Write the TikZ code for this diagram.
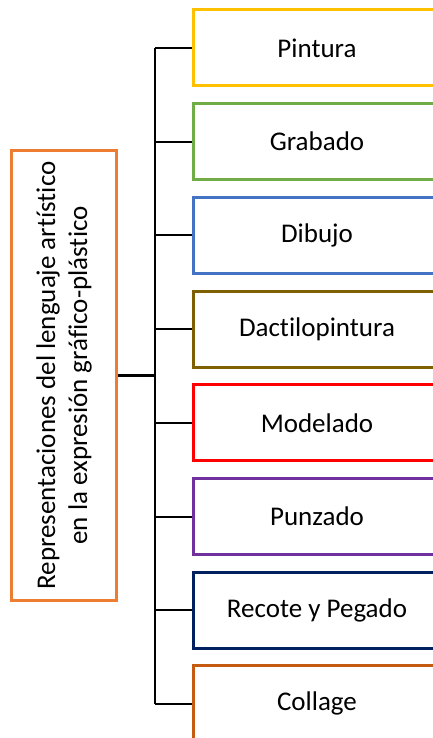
\documentclass[tikz,border=0pt]{standalone}
\usepackage{fontspec}
\setmainfont{Carlito}[Ligatures=NoCommon]
\usepackage{tikz}
\usetikzlibrary{positioning}
\definecolor{repC}{HTML}{ED7D31}
\definecolor{pinC}{HTML}{FFC000}
\definecolor{graC}{HTML}{70AD47}
\definecolor{dibC}{HTML}{4472C4}
\definecolor{dacC}{HTML}{7F6000}
\definecolor{modC}{HTML}{FF0000}
\definecolor{punC}{HTML}{7030A0}
\definecolor{recC}{HTML}{002060}
\definecolor{colC}{HTML}{C55A11}

\begin{document}
\begin{tikzpicture}[x=1pt, y=1pt, node distance=7.35pt,
box/.style={draw, line width=1.5pt, minimum width=124pt, minimum height=38pt, font=\fontsize{13.5}{16}\selectfont},
link/.style={line width=1pt}
]

\clip (0,0) rectangle (216.5,-369);

\node (rep) [box, draw=repC, rotate=90, minimum width=225pt, minimum height=52.5pt, align=center] at (32,-187.75) {Representaciones del lenguaje artístico\\en la expresión gráfico-plástico};

\node (pin) [box, draw=pinC] at (158.5,-24) {Pintura};
\node (gra) [box, draw=graC, below=of pin] {Grabado};
\node (dib) [box, draw=dibC, below=of gra] {Dibujo};
\node (dac) [box, draw=dacC, below=of dib] {Dactilopintura};
\node (mod) [box, draw=modC, below=of dac] {Modelado};
\node (pun) [box, draw=punC, below=of mod] {Punzado};
\node (rec) [box, draw=recC, below=of pun] {Recote y Pegado};
\node (col) [box, draw=colC, below=of rec] {Collage};

\coordinate (trunk) at (77.5,0);

\draw[link] (pin.west -| trunk) -- (col.west -| trunk);
\foreach \b in {pin,gra,dib,dac,mod,pun,rec,col}
  \draw[link] (\b.west -| trunk) -- (\b.west);
\draw[line width=1.5pt] (rep.south) -- (rep.south -| trunk);

\end{tikzpicture}
\end{document}
